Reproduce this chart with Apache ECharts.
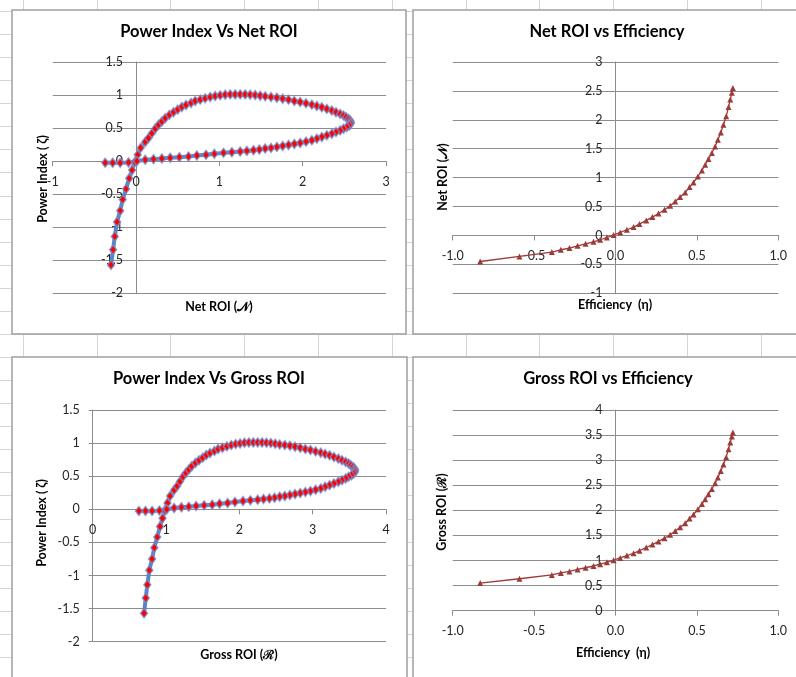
<!DOCTYPE html>
<html><head><meta charset="utf-8">
<script src="https://cdn.jsdelivr.net/npm/echarts/dist/echarts.min.js"></script>
<style>html,body{margin:0;padding:0;background:#fff}#c{width:796px;height:677px}</style>
</head><body><div id="c"></div><script>
// ---- Data ----
const netROI = [
 -0.30,-0.276,-0.255,-0.228,-0.19,-0.16,-0.12,-0.082,-0.047,-0.015,
 0.02,0.055,0.11,0.15,0.19,0.23,0.27,0.31,0.35,0.40,0.45,0.50,0.55,0.60,0.66,0.71,0.77,0.83,0.89,0.95,
 1.01,1.07,1.13,1.19,1.25,1.31,1.37,1.43,1.49,1.55,1.62,1.69,1.76,1.83,1.90,1.97,2.04,2.11,2.17,2.23,
 2.29,2.35,2.40,2.45,2.49,2.52,2.55,2.57,2.58,
 2.575,2.56,2.53,2.49,2.45,2.40,2.35,2.29,2.23,2.17,2.11,2.04,1.97,1.90,1.83,1.76,1.69,1.62,1.55,1.48,
 1.41,1.33,1.25,1.15,1.05,0.94,0.84,0.73,0.63,0.52,0.41,0.31,0.21,0.11,0.01,
 -0.09,-0.19,-0.28,-0.37];
const grossROI = [
 0.70,0.724,0.745,0.772,0.81,0.84,0.88,0.918,0.953,0.985,
 1.02,1.055,1.11,1.15,1.19,1.23,1.27,1.31,1.35,1.40,1.45,1.50,1.55,1.60,1.66,1.71,1.77,1.83,1.89,1.95,
 2.01,2.07,2.13,2.19,2.25,2.31,2.37,2.43,2.49,2.55,2.62,2.69,2.76,2.83,2.90,2.97,3.04,3.11,3.17,3.23,
 3.29,3.35,3.40,3.45,3.49,3.52,3.55,3.57,3.58,
 3.575,3.56,3.53,3.49,3.45,3.40,3.35,3.29,3.23,3.17,3.11,3.04,2.97,2.90,2.83,2.76,2.69,2.62,2.55,2.48,
 2.41,2.33,2.25,2.15,2.05,1.94,1.84,1.73,1.63,1.52,1.41,1.31,1.21,1.11,1.01,
 0.91,0.81,0.72,0.63];
const powerIndex = [
 -1.57,-1.34,-1.14,-0.92,-0.75,-0.58,-0.42,-0.26,-0.135,-0.015,
 0.095,0.2,0.29,0.35,0.42,0.49,0.55,0.60,0.65,0.70,0.74,0.78,0.82,0.85,0.88,0.91,0.93,0.95,0.97,0.985,
 0.995,1.005,1.01,1.01,1.01,1.01,1.005,1.0,0.99,0.98,0.97,0.96,0.945,0.93,0.91,0.895,0.875,0.855,0.835,0.815,
 0.79,0.765,0.74,0.715,0.69,0.665,0.64,0.615,0.59,
 0.565,0.54,0.515,0.49,0.465,0.44,0.415,0.39,0.365,0.34,0.315,0.295,0.275,0.26,0.245,0.23,0.215,0.2,0.19,0.175,
 0.165,0.155,0.145,0.135,0.125,0.11,0.095,0.085,0.07,0.06,0.05,0.04,0.03,0.02,0.0,
 -0.02,-0.025,-0.025,-0.025];
const efficiency = [-0.831,-0.590,-0.391,-0.336,-0.283,-0.233,-0.184,-0.135,-0.094,-0.053,-0.012,0.029,0.070,0.111,0.147,0.189,0.227,0.264,0.301,0.336,0.367,0.397,0.428,0.455,0.479,0.506,0.531,0.551,0.571,0.592,0.612,0.629,0.647,0.663,0.680,0.694,0.705,0.715,0.721];
const netROIvsEff = [-0.45,-0.363,-0.287,-0.247,-0.218,-0.178,-0.144,-0.109,-0.074,-0.035,0.007,0.052,0.099,0.145,0.197,0.26,0.318,0.381,0.445,0.514,0.588,0.664,0.744,0.837,0.917,1.02,1.125,1.223,1.322,1.426,1.54,1.656,1.782,1.915,2.06,2.22,2.35,2.47,2.55];
const grossROIvsEff = [0.55,0.637,0.713,0.753,0.782,0.822,0.856,0.891,0.926,0.965,1.007,1.052,1.099,1.145,1.197,1.26,1.318,1.381,1.445,1.514,1.588,1.664,1.744,1.837,1.917,2.02,2.125,2.223,2.322,2.426,2.54,2.656,2.782,2.915,3.06,3.22,3.35,3.47,3.55];

const titles = ['Power Index Vs Net ROI','Net ROI vs Efficiency','Power Index Vs Gross ROI','Gross ROI vs Efficiency'];
const xNames = ['Net ROI (\u{1D4A9})','Efficiency  (\u03B7)','Gross ROI (\u211B)','Efficiency  (\u03B7)'];
const yNames = ['Power Index ( \u03B6)','Net ROI (\u{1D4A9})','Power Index ( \u03B6)','Gross ROI (\u211B)'];
// axis ranges [xmin,xmax,xstep,ymin,ymax,ystep]
const ranges = [[-1,3,1,-2,1.5,0.5],[-1,1,0.5,-1,3,0.5],[0,4,1,-2,1.5,0.5],[-1,1,0.5,0,4,0.5]];

// ---- Chart ----
const FONT = 'Lato, "Open Sans", sans-serif';
const GRID_C = '#8c8c8c';
const grids = [
  {left:52.7, top:62, width:333.3, height:231.3},
  {left:452.7, top:62, width:325.6, height:231.3},
  {left:92.7, top:410, width:293.3, height:231.7},
  {left:452.7, top:410, width:325.6, height:200.7}
];
const chart = echarts.init(document.getElementById('c'), null, {renderer:'canvas'});
const zip = (a,b) => a.map((v,i)=>[v,b[i]]);

function xAx(i, fmt){
  const r = ranges[i], g = grids[i];
  const off = -(0 - r[3])/(r[4]-r[3])*g.height; // x axis crosses at y = 0
  return {type:'value', gridIndex:i, min:r[0], max:r[1], interval:r[2], position:'bottom', offset:off,
    axisLine:{show:true, onZero:false, lineStyle:{color:GRID_C, width:1}},
    axisTick:{show:true, length:5, lineStyle:{color:GRID_C}},
    axisLabel:{color:'#262626', fontSize:12.5, fontFamily:FONT, margin:14, formatter:fmt},
    splitLine:{show:false}};
}
function yAx(i){
  const r = ranges[i], g = grids[i];
  const off = -(0 - r[0])/(r[1]-r[0])*g.width; // y axis crosses at x = 0
  return {type:'value', gridIndex:i, min:r[3], max:r[4], interval:r[5], position:'left', offset:off,
    axisLine:{show:true, onZero:false, lineStyle:{color:GRID_C, width:1}},
    axisTick:{show:true, length:4, lineStyle:{color:GRID_C}},
    axisLabel:{color:'#262626', fontSize:12.5, fontFamily:FONT, margin:13},
    splitLine:{show:true, lineStyle:{color:GRID_C, width:1}}};
}

const bg = [];
[23,97,170,244,318,392,466,539,613,687,761].forEach(x=>bg.push({type:'line', z:-30, shape:{x1:x+0.5,y1:0,x2:x+0.5,y2:677}, style:{stroke:'#d4d4d4', lineWidth:1}}));
for(let k=0;k<30;k++){const y=Math.round(11+23.07*k)+0.5; bg.push({type:'line', z:-30, shape:{x1:0,y1:y,x2:796,y2:y}, style:{stroke:'#d4d4d4', lineWidth:1}});}
const panels = [[12,10,394,324],[413,10,400,324],[12,357,395,340],[413,357,400,340]];
panels.forEach(p=>bg.push({type:'rect', z:-20, shape:{x:p[0],y:p[1],width:p[2],height:p[3]}, style:{fill:'#fff', stroke:'#a0a0a0', lineWidth:1.5}}));

const txt = (x,y,t,size,rot)=>({type:'text', z:100, x, y, rotation:rot||0,
  style:{text:t, fontSize:size, fontWeight:'bold', fontFamily:FONT, fill:'#000', align:'center', verticalAlign:'middle'}});
const titlePos = [[209,32],[607,32],[209,379],[608,379]];
const xNamePos = [[219,307],[615,305],[239,655],[613,653]];
const yNamePos = [[43,179],[443,177],[42,523],[442,512]];
titles.forEach((t,i)=>bg.push(txt(titlePos[i][0],titlePos[i][1],t,16.5)));
xNames.forEach((t,i)=>bg.push(txt(xNamePos[i][0],xNamePos[i][1],t,12.5)));
yNames.forEach((t,i)=>bg.push(txt(yNamePos[i][0],yNamePos[i][1],t,12.5,Math.PI/2)));

const blueSeries = (xi, data)=>({type:'line', xAxisIndex:xi, yAxisIndex:xi, data,
  lineStyle:{color:'#5685c8', width:4}, symbol:'diamond', symbolSize:[7,9],
  itemStyle:{color:'#ff0000', borderColor:'rgba(110,145,210,0.75)', borderWidth:1.5}, z:3});
const redSeries = (xi, data)=>({type:'line', xAxisIndex:xi, yAxisIndex:xi, data,
  lineStyle:{color:'#9c3b38', width:1.3}, symbol:'triangle', symbolSize:6,
  itemStyle:{color:'#9c3b38'}, z:3});

chart.setOption({
  animation:false,
  backgroundColor:'#fff',
  graphic:{elements:bg},
  grid:grids,
  xAxis:[ xAx(0), xAx(1,v=>v.toFixed(1)), xAx(2), xAx(3,v=>v.toFixed(1)) ],
  yAxis:[ yAx(0), yAx(1), yAx(2), yAx(3) ],
  series:[
    blueSeries(0, zip(netROI, powerIndex)),
    redSeries(1, zip(efficiency, netROIvsEff)),
    blueSeries(2, zip(grossROI, powerIndex)),
    redSeries(3, zip(efficiency, grossROIvsEff))
  ]
});
</script></body></html>
